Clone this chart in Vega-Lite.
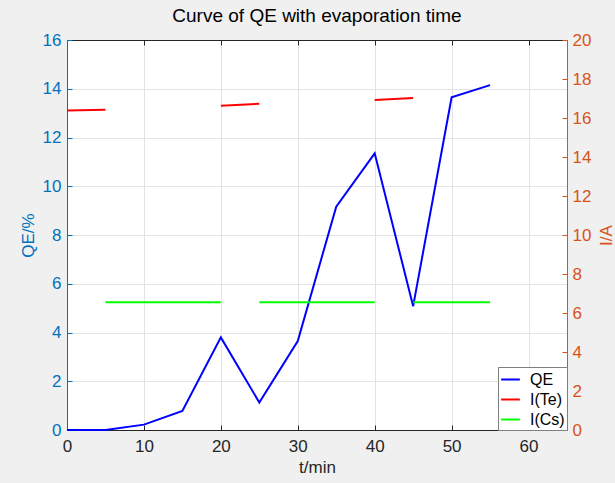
{
  "$schema": "https://vega.github.io/schema/vega-lite/v6.json",
  "width": 500,
  "height": 390,
  "autosize": {"type": "none"},
  "padding": {"left": 67, "top": 40, "right": 48, "bottom": 53},
  "background": "#f0f0f0",
  "title": {"text": "Curve of QE with evaporation time", "fontSize": 19, "fontWeight": "normal", "font": "Liberation Sans", "color": "#000000", "offset": 5},
  "config": {
    "view": {"fill": "white", "stroke": "#262626"},
    "font": "Liberation Sans",
    "legend": {"labelFont": "Liberation Sans"}
  },
  "data": {
    "values": [
      {"series": "QE", "seg": "QE", "t": 0, "v": 0},
      {"series": "QE", "seg": "QE", "t": 5, "v": 0},
      {"series": "QE", "seg": "QE", "t": 10, "v": 0.22},
      {"series": "QE", "seg": "QE", "t": 15, "v": 0.78},
      {"series": "QE", "seg": "QE", "t": 20, "v": 3.8},
      {"series": "QE", "seg": "QE", "t": 25, "v": 1.13},
      {"series": "QE", "seg": "QE", "t": 30, "v": 3.65},
      {"series": "QE", "seg": "QE", "t": 35, "v": 9.16},
      {"series": "QE", "seg": "QE", "t": 40, "v": 11.35},
      {"series": "QE", "seg": "QE", "t": 45, "v": 5.08},
      {"series": "QE", "seg": "QE", "t": 50, "v": 13.65},
      {"series": "QE", "seg": "QE", "t": 55, "v": 14.15},
      {"series": "I(Te)", "seg": "Te1", "t": 0, "v": 16.39},
      {"series": "I(Te)", "seg": "Te1", "t": 5, "v": 16.42},
      {"series": "I(Te)", "seg": "Te2", "t": 20, "v": 16.63},
      {"series": "I(Te)", "seg": "Te2", "t": 25, "v": 16.73},
      {"series": "I(Te)", "seg": "Te3", "t": 40, "v": 16.92},
      {"series": "I(Te)", "seg": "Te3", "t": 45, "v": 17.03},
      {"series": "I(Cs)", "seg": "Cs1", "t": 5, "v": 6.55},
      {"series": "I(Cs)", "seg": "Cs1", "t": 20, "v": 6.55},
      {"series": "I(Cs)", "seg": "Cs2", "t": 25, "v": 6.55},
      {"series": "I(Cs)", "seg": "Cs2", "t": 40, "v": 6.55},
      {"series": "I(Cs)", "seg": "Cs3", "t": 45, "v": 6.55},
      {"series": "I(Cs)", "seg": "Cs3", "t": 55, "v": 6.55}
    ]
  },
  "layer": [
    {
      "transform": [{"filter": "datum.series === 'QE'"}],
      "mark": {"type": "line", "strokeWidth": 2},
      "encoding": {
        "x": {"field": "t", "type": "quantitative", "scale": {"domain": [0, 65], "nice": false},
          "axis": {"title": "t/min", "values": [0,10,20,30,40,50,60], "grid": true, "gridColor": "#e3e3e3", "domainColor": "#262626", "tickColor": "#262626", "tickSize": -5, "labelFlush": false, "labelPadding": 13, "labelFontSize": 17, "labelColor": "#262626", "titleFontSize": 17, "titleFontWeight": "normal", "titleColor": "#262626", "titlePadding": 5}},
        "y": {"field": "v", "type": "quantitative", "scale": {"domain": [0, 16], "nice": false},
          "axis": {"title": "QE/%", "orient": "left", "values": [0,2,4,6,8,10,12,14,16], "grid": true, "gridColor": "#e3e3e3", "domainColor": "#0072BD", "tickColor": "#0072BD", "tickSize": -5, "labelFlush": false, "labelPadding": 11, "labelFontSize": 17, "labelColor": "#0072BD", "titleFontSize": 17, "titleFontWeight": "normal", "titleColor": "#0072BD", "titlePadding": 5}},
        "color": {"field": "series", "type": "nominal",
          "scale": {"domain": ["QE", "I(Te)", "I(Cs)"], "range": ["#0000ff", "#ff0000", "#00ff00"]},
          "legend": {"title": null, "orient": "bottom-right", "offset": 0, "symbolType": "stroke", "symbolSize": 350, "symbolStrokeWidth": 2, "labelFontSize": 16, "labelColor": "#000000", "fillColor": "white", "strokeColor": "#7f7f7f", "padding": 2, "rowPadding": 1, "labelOffset": 9}}
      }
    },
    {
      "transform": [{"filter": "datum.series !== 'QE'"}],
      "mark": {"type": "line", "strokeWidth": 2},
      "encoding": {
        "x": {"field": "t", "type": "quantitative", "scale": {"domain": [0, 65], "nice": false},
          "axis": {"orient": "top", "title": null, "labels": false, "values": [0,10,20,30,40,50,60], "grid": false, "domainColor": "#262626", "tickColor": "#262626", "tickSize": -5}},
        "y": {"field": "v", "type": "quantitative", "scale": {"domain": [0, 20], "nice": false},
          "axis": {"title": "I/A", "orient": "right", "titleAngle": 270, "values": [0,2,4,6,8,10,12,14,16,18,20], "grid": false, "domainColor": "#D95319", "tickColor": "#D95319", "tickSize": -5, "labelFlush": false, "labelPadding": 10, "labelFontSize": 17, "labelColor": "#D95319", "titleFontSize": 17, "titleFontWeight": "normal", "titleColor": "#D95319", "titlePadding": 25}},
        "detail": {"field": "seg"},
        "color": {"field": "series", "type": "nominal"}
      }
    }
  ],
  "resolve": {"scale": {"y": "independent"}, "axis": {"x": "independent", "y": "independent"}}
}
